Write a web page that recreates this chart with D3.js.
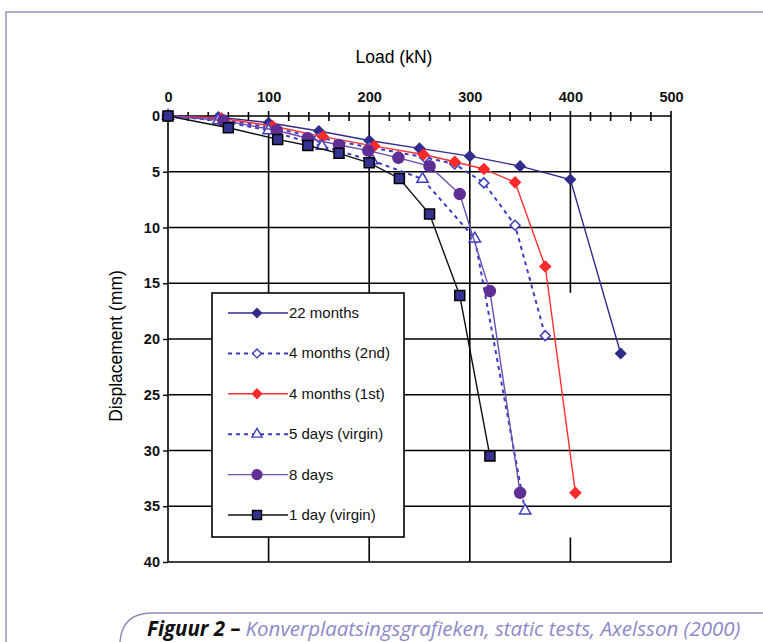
<!DOCTYPE html>
<html>
<head>
<meta charset="utf-8">
<script src="https://cdn.jsdelivr.net/npm/d3@7"></script>
<style>
  body { margin: 0; background: #fff; }
  svg { display: block; font-family: "Liberation Sans", Arial, sans-serif; }
</style>
</head>
<body>
<svg id="chart" width="763" height="642"></svg>
<script>
// Load (kN) / displacement (mm) per test
const load22m   = [0, 50, 100, 150, 200, 250, 300, 350, 400, 450]
const disp22m   = [0, 0.1, 0.6, 1.35, 2.2, 2.9, 3.6, 4.5, 5.7, 21.3]
const load4m2   = [0, 50, 100, 150, 200, 255, 285, 314, 345, 375]
const disp4m2   = [0, 0.25, 1.0, 1.95, 2.8, 3.7, 4.3, 6.0, 9.8, 19.7]
const load4m1   = [0, 53, 104, 154, 205, 254, 285, 314, 345, 375, 405]
const disp4m1   = [0, 0.2, 0.9, 1.85, 2.7, 3.45, 4.1, 4.75, 5.95, 13.5, 33.8]
const load5d    = [0, 50, 100, 153, 203, 253, 305, 355]
const disp5d    = [0, 0.4, 1.3, 2.7, 4.0, 5.65, 11.0, 35.4]
const load8d    = [0, 55, 108, 139, 170, 199, 229, 260, 290, 320, 350]
const disp8d    = [0, 0.4, 1.3, 2.0, 2.6, 3.1, 3.75, 4.5, 7.0, 15.7, 33.8]
const load1d    = [0, 60, 109, 139, 170, 200, 230, 260, 290, 320]
const disp1d    = [0, 1.05, 2.1, 2.65, 3.35, 4.2, 5.6, 8.8, 16.1, 30.5]

const seriesNames = ["22 months", "4 months (2nd)", "4 months (1st)", "5 days (virgin)", "8 days", "1 day (virgin)"]
const xTicks = [0, 100, 200, 300, 400, 500]
const yTicks = [0, 5, 10, 15, 20, 25, 30, 35, 40]

// diamonds are drawn as squares turned 45 degrees
const series = [
  {name: seriesNames[0], x: load22m, y: disp22m, line: "#2f2c8a", dash: null, shape: d3.symbolSquare, rot: 45, fill: "#2f2c8a", stroke: "#2f2c8a", size: 50},
  {name: seriesNames[1], x: load4m2, y: disp4m2, line: "#3c3cc0", dash: "4,4", shape: d3.symbolSquare, rot: 45, fill: "#fff", stroke: "#3c3cc0", size: 50},
  {name: seriesNames[2], x: load4m1, y: disp4m1, line: "#ff3030", dash: null, shape: d3.symbolSquare, rot: 45, fill: "#ff2a2a", stroke: "#ff2a2a", size: 55},
  {name: seriesNames[3], x: load5d, y: disp5d, line: "#3c3cc0", dash: "4,4", shape: d3.symbolTriangle, rot: 0, fill: "#fff", stroke: "#3c3cc0", size: 55},
  {name: seriesNames[4], x: load8d, y: disp8d, line: "#6a4fb0", dash: null, shape: d3.symbolCircle, rot: 0, fill: "#5f2f96", stroke: "#5f2f96", size: 95},
  {name: seriesNames[5], x: load1d, y: disp1d, line: "#111", dash: null, shape: d3.symbolSquare, rot: 0, fill: "#33338f", stroke: "#000", size: 100}
]

const svg = d3.select("#chart")

// Page frame and caption box
svg.append("path")
  .attr("d", "M6,642 L6,12 L763,12")
  .attr("fill", "none").attr("stroke", "#9693c2").attr("stroke-width", 1.5)
svg.append("path")
  .attr("d", "M120,642 Q122,614 150,613 L763,613")
  .attr("fill", "none").attr("stroke", "#8e8bbb").attr("stroke-width", 1.5)

// Scales
const x = d3.scaleLinear().domain([0, 500]).range([168, 671])
const y = d3.scaleLinear().domain([0, 40]).range([116, 562])

// Grid lines
const grid = svg.append("g").attr("stroke", "#000").attr("stroke-width", 1.6)
grid.selectAll(".hgrid")
  .data(yTicks.filter(d => d > 0 && d < 40))
  .enter().append("line")
  .attr("x1", x(0)).attr("x2", x(500))
  .attr("y1", d => y(d)).attr("y2", d => y(d))
grid.selectAll(".vgrid")
  .data([100, 200, 300])
  .enter().append("line")
  .attr("x1", d => x(d)).attr("x2", d => x(d))
  .attr("y1", y(0) - 5).attr("y2", y(40))
// the 400 line is broken in the original figure
grid.selectAll(".vgrid4")
  .data([[0, 15.85], [37.8, 40]])
  .enter().append("line")
  .attr("x1", x(400)).attr("x2", x(400))
  .attr("y1", d => d[0] == 0 ? y(0) - 5 : y(d[0])).attr("y2", d => y(d[1]))

// Plot frame (top axis line, right, bottom)
grid.append("path")
  .attr("fill", "none")
  .attr("d", `M${x(0)},${y(0)} L${x(500)},${y(0)} L${x(500)},${y(40)} L${x(0)},${y(40)}`)
grid.append("line")
  .attr("x1", x(500)).attr("x2", x(500)).attr("y1", y(0) - 5).attr("y2", y(0))

// Minor ticks on top axis
grid.selectAll(".minor")
  .data(d3.range(20, 500, 20).filter(d => d % 100 != 0))
  .enter().append("line")
  .attr("x1", d => x(d)).attr("x2", d => x(d))
  .attr("y1", y(0) - 4).attr("y2", y(0) + 5)

// Top axis labels
const xAxis = d3.axisTop(x).tickValues(xTicks).tickSize(0).tickPadding(14)
svg.append("g")
  .attr("transform", `translate(0,${y(0)})`)
  .call(xAxis)
  .attr("font-family", null)
  .call(g => g.select(".domain").remove())
  .selectAll("text")
  .attr("font-size", 14.5).attr("font-weight", "bold").attr("fill", "#111")

// Left axis
const yAxis = d3.axisLeft(y).tickValues(yTicks).tickSize(5).tickPadding(3)
svg.append("g")
  .attr("transform", `translate(${x(0)},0)`)
  .call(yAxis)
  .attr("font-family", null)
  .call(g => g.select(".domain").attr("stroke-width", 1.6).attr("d", `M0,${y(0)}V${y(40)}`))
  .call(g => g.selectAll(".tick line").attr("stroke-width", 1.4))
  .selectAll("text")
  .attr("font-size", 14.5).attr("font-weight", "bold").attr("fill", "#111")

// Axis titles
svg.append("text")
  .attr("x", 394).attr("y", 63)
  .attr("text-anchor", "middle")
  .attr("font-size", 17.5)
  .text("Load (kN)")
svg.append("text")
  .attr("transform", "translate(122,346) rotate(-90)")
  .attr("text-anchor", "middle")
  .attr("font-size", 17.5)
  .text("Displacement (mm)")

// Data lines and markers
const line = d3.line().x(d => x(d[0])).y(d => y(d[1]))
series.forEach(s => {
  const pts = s.x.map((v, i) => [v, s.y[i]])
  const g = svg.append("g")
  g.append("path")
    .attr("d", line(pts))
    .attr("fill", "none")
    .attr("stroke", s.line)
    .attr("stroke-width", s.dash ? 2 : 1.4)
    .attr("stroke-dasharray", s.dash)
  g.selectAll("path.mk")
    .data(pts)
    .enter().append("path")
    .attr("class", "mk")
    .attr("d", d3.symbol().type(s.shape).size(s.size))
    .attr("transform", d => `translate(${x(d[0])},${y(d[1])}) rotate(${s.rot})`)
    .attr("fill", s.fill)
    .attr("stroke", s.stroke)
    .attr("stroke-width", 1.5)
})

// Legend
const legend = svg.append("g").attr("transform", "translate(212,293)")
legend.append("rect")
  .attr("width", 192).attr("height", 244)
  .attr("fill", "#fff").attr("stroke", "#000").attr("stroke-width", 1.6)
series.forEach((s, i) => {
  const ly = 20 + i * 40.4
  legend.append("line")
    .attr("x1", 16).attr("x2", 76).attr("y1", ly).attr("y2", ly)
    .attr("stroke", s.line)
    .attr("stroke-width", s.dash ? 2 : 1.4)
    .attr("stroke-dasharray", s.dash)
  legend.append("path")
    .attr("d", d3.symbol().type(s.shape).size(s.size * 0.8))
    .attr("transform", `translate(45,${ly}) rotate(${s.rot})`)
    .attr("fill", s.fill).attr("stroke", s.stroke).attr("stroke-width", 1.4)
  legend.append("text")
    .attr("x", 77).attr("y", ly + 5)
    .attr("font-size", 15)
    .attr("fill", "#111")
    .text(s.name)
})

// Caption
const cap = svg.append("text")
  .attr("x", 147).attr("y", 636)
  .attr("font-family", "'Open Sans', 'Liberation Sans', sans-serif")
  .attr("font-style", "italic")
  .attr("font-size", 20.5)
cap.append("tspan").attr("font-weight", "bold").attr("fill", "#111").text("Figuur 2 \u2013 ")
cap.append("tspan").attr("fill", "#8d89c9").text("Konverplaatsingsgrafieken, static tests, Axelsson (2000)")
</script>
</body>
</html>
